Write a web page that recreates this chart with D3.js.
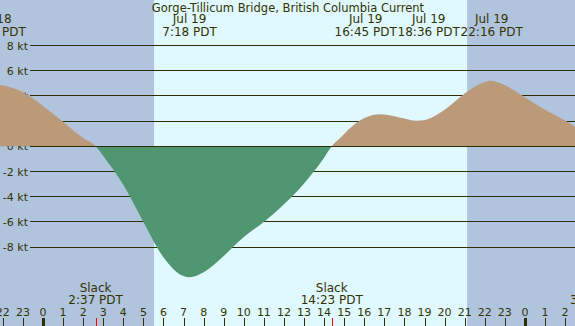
<!DOCTYPE html>
<html>
<head>
<meta charset="utf-8">
<script src="https://cdn.jsdelivr.net/npm/d3@7"></script>
<style>
  body { margin: 0; padding: 0; overflow: hidden; }
  svg { display: block; font-family: "DejaVu Sans", sans-serif; }
  text { fill: #333300; }
</style>
</head>
<body>
<script>
// hours relative to Jul 19 00:00 PDT, current in knots (+ flood, - ebb)
var hours  = [-3, -2.4, -2, -1, 0, 1, 2, 2.62, 3, 4, 5, 6, 7, 7.3, 8, 9, 10, 11, 12, 13, 14, 14.38,
              14.8, 15.3, 16, 16.75, 17, 18, 18.6, 19, 20, 21, 22, 22.27, 23, 24, 25, 26, 26.5, 27, 27.6];
var knots  = [4.8, 4.9, 4.82, 4.3, 3.2, 1.95, 0.65, 0, -0.76, -3.05, -6.0, -8.8, -10.3, -10.4, -10.0, -8.7, -7.2, -6.0, -4.6, -2.95, -0.9, 0,
              0.65, 1.45, 2.25, 2.55, 2.52, 2.2, 2.02, 2.08, 2.9, 4.2, 5.1, 5.2, 4.85, 3.9, 2.9, 2.05, 1.55, 0.85, 0];

var yTicks = [8, 6, 4, 2, 0, -2, -4, -6, -8];

// max/min current events shown on top
var peakHours = [-2.4, 7.3, 16.75, 18.6, 22.27];
var peakDays  = ["Jul 18", "Jul 19", "Jul 19", "Jul 19", "Jul 19"];
var peakTimes = ["21:37 PDT", "7:18 PDT", "16:45 PDT", "18:36 PDT", "22:16 PDT"];

// slack water
var slackHours = [2.62, 14.38, 27.6];
var slackTimes = ["2:37 PDT", "14:23 PDT", "3:36 PDT"];

// daylight
var sunrise = 5.53, sunset = 21.12;
var midnights = [0, 24];

var title = "Gorge-Tillicum Bridge, British Columbia Current";

var width = 575, height = 326;

var svg = d3.select("body").append("svg")
    .attr("width", width)
    .attr("height", height);

var x = d3.scaleLinear().domain([-2.141, 26.494]).range([0, width]);
var y = d3.scaleLinear().domain([-8, 8]).range([247.1, 45.5]);

var data = hours.map(function (h, i) { return {h: h, v: knots[i]}; });

// night / day background
svg.append("rect")
    .attr("width", width).attr("height", height)
    .attr("fill", "#b0c4de");
svg.append("rect")
    .attr("x", x(sunrise)).attr("y", 0)
    .attr("width", x(sunset) - x(sunrise)).attr("height", height)
    .attr("fill", "#e0f8ff");

// grid
function gy(v) { return Math.floor(y(v)) + 0.5; }
svg.append("g").selectAll("line")
    .data(yTicks)
    .enter().append("line")
    .attr("x1", 30).attr("x2", width)
    .attr("y1", gy).attr("y2", gy)
    .attr("stroke", "#2e2e00")
    .attr("stroke-width", 1);

svg.append("g").selectAll("text")
    .data(yTicks)
    .enter().append("text")
    .attr("x", 28)
    .attr("y", function (d) { return y(d) + 4; })
    .attr("text-anchor", "end")
    .attr("font-size", 11)
    .text(function (d) { return d + " kt"; });

// current area, split at zero with clips
var defs = svg.append("defs");
defs.append("clipPath").attr("id", "above")
    .append("rect").attr("x", 0).attr("y", 0).attr("width", width).attr("height", y(0));
defs.append("clipPath").attr("id", "below")
    .append("rect").attr("x", 0).attr("y", y(0)).attr("width", width).attr("height", height);

var area = d3.area()
    .x(function (d) { return x(d.h); })
    .y0(y(0))
    .y1(function (d) { return y(d.v); })
    .curve(d3.curveMonotoneX);

svg.append("path").datum(data)
    .attr("d", area)
    .attr("clip-path", "url(#above)")
    .attr("fill", "#bb9a7a");
svg.append("path").datum(data)
    .attr("d", area)
    .attr("clip-path", "url(#below)")
    .attr("fill", "#509670");

svg.append("line")
    .attr("x1", 30).attr("x2", width)
    .attr("y1", gy(0)).attr("y2", gy(0))
    .attr("stroke", "#2e2e00");

// title
svg.append("text")
    .attr("x", 288).attr("y", 12)
    .attr("text-anchor", "middle")
    .attr("font-size", 11.5)
    .text(title);

// peak labels, spread so they don't collide
var px = peakHours.map(function (h) { return x(h); });
for (var it = 0; it < 20; it++) {
    for (var i = 1; i < px.length; i++) {
        var gap = px[i] - px[i - 1];
        if (gap < 63) {
            var push = (63 - gap) / 2;
            px[i - 1] -= push;
            px[i] += push;
        }
    }
}
var peaks = svg.append("g").selectAll("g")
    .data(peakHours)
    .enter().append("g");
peaks.append("text")
    .attr("x", function (d, i) { return px[i]; })
    .attr("y", 23)
    .attr("text-anchor", "middle")
    .attr("font-size", 12)
    .text(function (d, i) { return peakDays[i]; });
peaks.append("text")
    .attr("x", function (d, i) { return px[i]; })
    .attr("y", 36)
    .attr("text-anchor", "middle")
    .attr("font-size", 12)
    .text(function (d, i) { return peakTimes[i]; });

// slack labels
var slacks = svg.append("g").selectAll("g")
    .data(slackHours)
    .enter().append("g");
slacks.append("text")
    .attr("x", function (d) { return x(d); })
    .attr("y", 292)
    .attr("text-anchor", "middle")
    .attr("font-size", 12)
    .text("Slack");
slacks.append("text")
    .attr("x", function (d) { return x(d); })
    .attr("y", 303.5)
    .attr("text-anchor", "middle")
    .attr("font-size", 12)
    .text(function (d, i) { return slackTimes[i]; });

// hour axis
var hourTicks = d3.range(-2, 27);
var axis = svg.append("g");
axis.selectAll("line.hr")
    .data(hourTicks)
    .enter().append("line")
    .attr("class", "hr")
    .attr("x1", function (d) { return Math.round(x(d)) + 0.5; })
    .attr("x2", function (d) { return Math.round(x(d)) + 0.5; })
    .attr("y1", 318).attr("y2", height)
    .attr("stroke", "#2e2e00")
    .attr("stroke-width", function (d) { return midnights.indexOf(d) >= 0 ? 3 : 1; });
axis.selectAll("line.slack")
    .data(slackHours)
    .enter().append("line")
    .attr("class", "slack")
    .attr("x1", function (d) { return Math.round(x(d)) + 0.5; })
    .attr("x2", function (d) { return Math.round(x(d)) + 0.5; })
    .attr("y1", 318).attr("y2", height)
    .attr("stroke", "red");
axis.selectAll("text")
    .data(hourTicks)
    .enter().append("text")
    .attr("x", function (d) { return x(d); })
    .attr("y", 316)
    .attr("text-anchor", "middle")
    .attr("font-size", 11)
    .text(function (d) { return (d + 24) % 24; });
</script>
</body>
</html>
